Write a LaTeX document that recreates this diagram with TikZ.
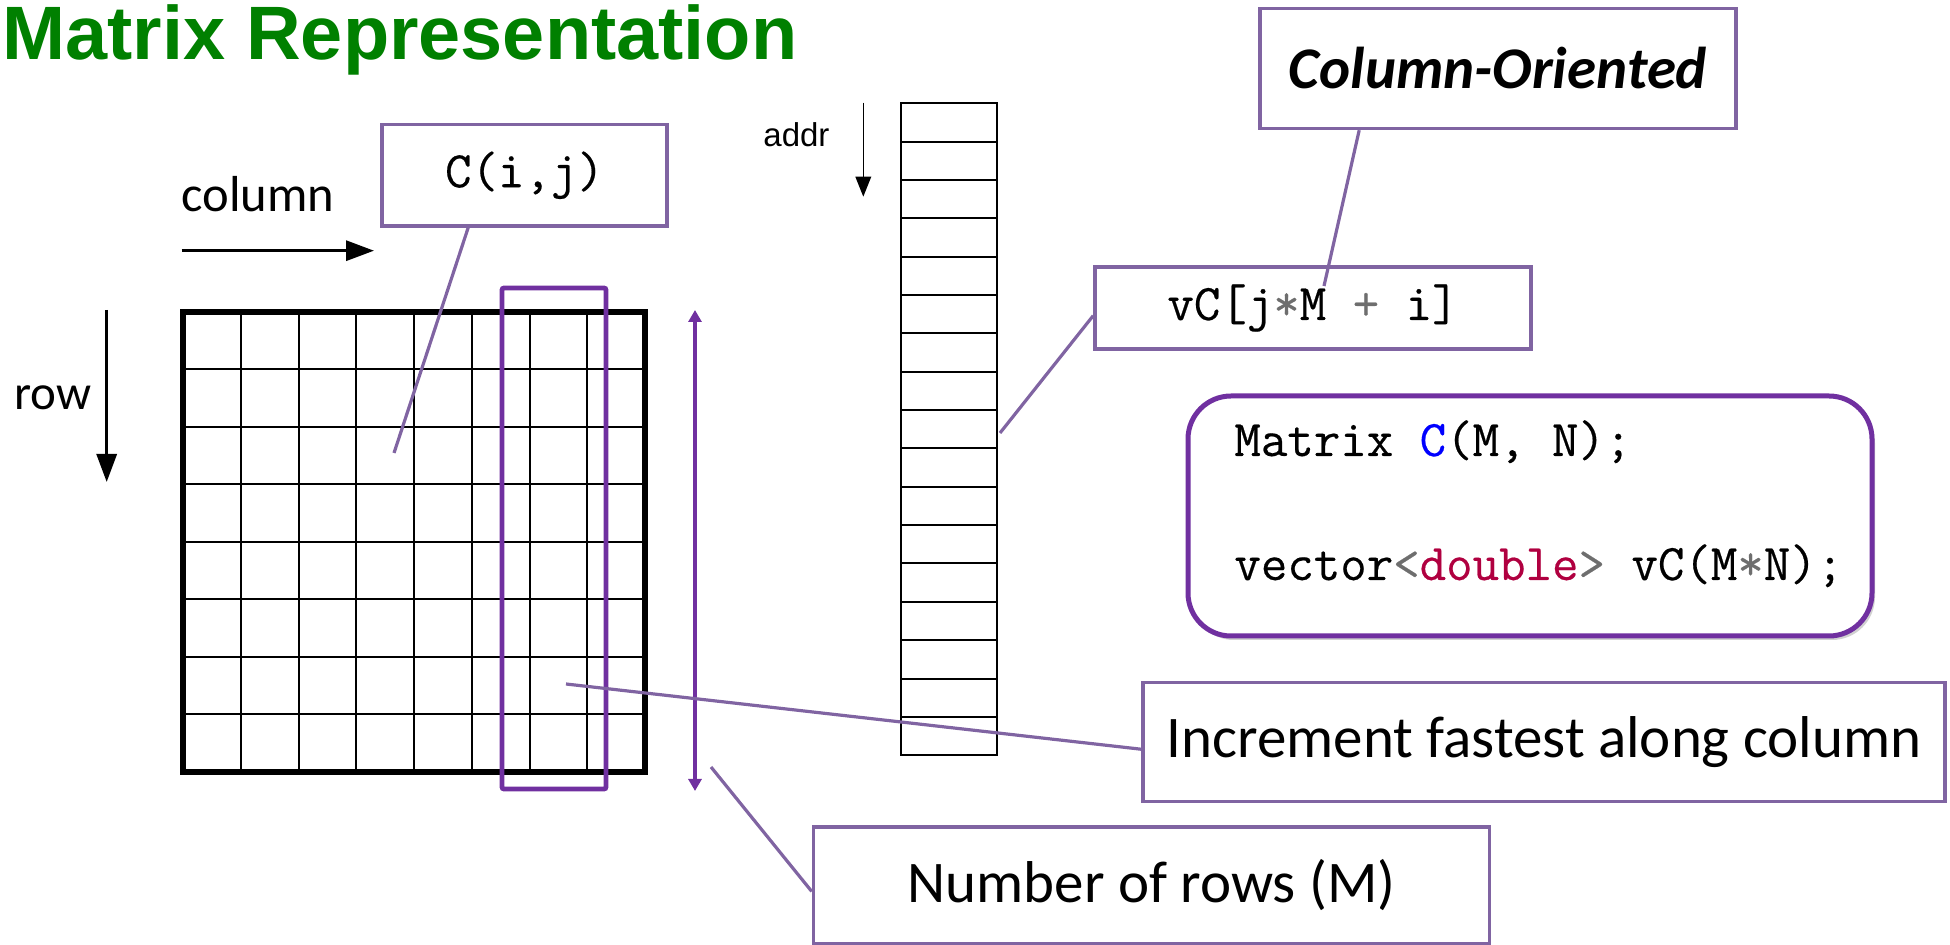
\documentclass[tikz,border=0pt]{standalone}
\usepackage{fontspec}
\setmainfont{Carlito}
\setmonofont{Latin Modern Mono}[FakeBold=0.4]
\newfontfamily\headfont{Liberation Sans}
\usetikzlibrary{arrows.meta,shadows}
\definecolor{titlegreen}{RGB}{0,128,0}
\definecolor{boxpurple}{RGB}{128,100,162}
\definecolor{darkpurple}{RGB}{112,48,160}
\definecolor{codeblue}{RGB}{0,0,255}
\definecolor{codered}{RGB}{176,0,64}
\definecolor{codegray}{RGB}{110,110,110}
\newcommand{\calloutfont}{\fontsize{29.5pt}{35pt}\selectfont}
\newcommand{\codefont}{\ttfamily\fontsize{25.7pt}{30pt}\selectfont}
\newcommand{\op}[1]{\textcolor{codegray}{#1}}
\begin{document}
\begin{tikzpicture}[x=0.5pt,y=-0.5pt,
        callout/.style={draw=boxpurple,line width=1.8pt,inner sep=0pt},
        pointer/.style={boxpurple,line width=1.6pt},
        bigarrow/.style={line width=1.6pt,-{Triangle[length=14pt,width=10pt]}},
        label/.style={inner sep=0pt,anchor=base west}]
    \useasboundingbox (0,0) rectangle (1950,945);
    %% Title
    \node[label,font=\headfont\bfseries\fontsize{37.85pt}{44pt}\selectfont,text=titlegreen] (title) at (2,60) {Matrix Representation};
    %% Directions
    \node[label,font=\fontsize{25.3pt}{30pt}\selectfont] (collabel) at (181,211.7) {column};
    \draw[bigarrow] (181.7,250.7) -- (374,250.7);
    \node[label,font=\fontsize{24.5pt}{29pt}\selectfont] (rowlabel) at (14,410) {row};
    \draw[bigarrow] (106.7,310) -- (106.7,482);
    %% Matrix grid
    \foreach \k in {1,...,7} {
        \draw[line width=1pt] (183+57.75*\k,312) -- (183+57.75*\k,772);
        \draw[line width=1pt] (183,312+57.5*\k) -- (645,312+57.5*\k);
    }
    \draw[line width=2.8pt] (183,312) rectangle (645,772);
    %% Highlighted column and its height
    \draw[darkpurple,line width=2.4pt,rounded corners=1pt] (502,288) rectangle (606,789);
    \draw[darkpurple,line width=2pt,{Triangle[length=6pt,width=6.5pt]}-{Triangle[length=6pt,width=6.5pt]}] (695,310) -- (695,791);
    %% Memory
    \node[label,font=\headfont\fontsize{16.5pt}{20pt}\selectfont] (addrlabel) at (763,146.7) {addr};
    \draw[line width=0.8pt,-{Triangle[length=10pt,width=7.8pt]}] (863.3,102.7) -- (863.3,196.7);
    \foreach \k in {0,...,16}
        \draw[line width=1pt] (901,103.3+38.35*\k) rectangle +(96.3,38.35);
    %% Callouts
    \node[callout,minimum width=142.5pt,minimum height=50.75pt,font=\codefont] (cellbox) at (524.5,175.25) {C(i,j)};
    \node[callout,minimum width=238pt,minimum height=60pt,font=\calloutfont\bfseries\itshape] (orientbox) at (1498,68.4) {Column-Oriented};
    \node[callout,minimum width=218pt,minimum height=41pt,font=\codefont] (indexbox) at (1313,308) {vC[j\op{*}M \op{+} i]};
    \node[callout,minimum width=401pt,minimum height=59.5pt,font=\calloutfont] (fastbox) at (1544,742.2) {Increment fastest along column};
    \node[callout,minimum width=338pt,minimum height=58.5pt,font=\calloutfont] (rowsbox) at (1151.5,885.5) {Number of rows (M)};
    %% Code
    \node[draw=darkpurple,line width=2.5pt,rounded corners=21.5pt,fill=white,minimum width=342pt,minimum height=120pt,
        drop shadow={shadow xshift=1.5pt,shadow yshift=-2pt,opacity=0.3,fill=black!60}] (codebox) at (1530,516) {};
    \node[label,font=\codefont] (codeone) at (1234,456) {Matrix \textcolor{codeblue}{C}(M, N);};
    \node[label,font=\codefont] (codetwo) at (1234,580) {vector\op{<}\textcolor{codered}{double}\op{>} vC(M\op{*}N);};
    %% Pointers
    \coordinate (cellpt) at (394,453);
    \coordinate (indexpt) at (1324,286);
    \coordinate (mempt) at (1000,433);
    \coordinate (fastpt) at (566,684);
    \coordinate (rowspt) at (711,767);
    \draw[pointer] (cellbox.223) -- (cellpt);
    \draw[pointer] (orientbox.204.8) -- (indexpt);
    \draw[pointer] (indexbox.182.1) -- (mempt);
    \draw[pointer] (fastbox.181.3) -- (fastpt);
    \draw[pointer] (rowsbox.181.9) -- (rowspt);
\end{tikzpicture}
\end{document}
